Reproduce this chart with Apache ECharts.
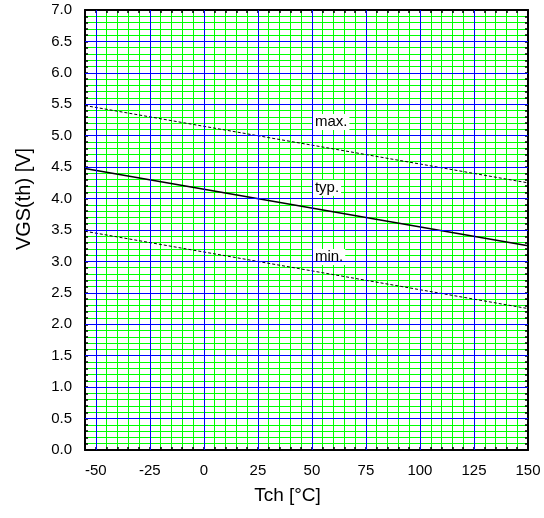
<!DOCTYPE html>
<html>
<head>
<meta charset="utf-8">
<script src="https://cdn.jsdelivr.net/npm/echarts@6/dist/echarts.min.js"></script>
<style>
  html, body { margin: 0; padding: 0; background: #fff; }
  #chart { width: 544px; height: 518px; }
</style>
</head>
<body>
<div id="chart"></div>
<script>
// Channel temperature end points (°C)
const tch = [-55, 150];
// Gate threshold voltage limits (V)
const vgsMax = [5.48, 4.25];
const vgsTyp = [4.48, 3.25];
const vgsMin = [3.48, 2.25];
// Curve annotations: [Tch, VGS, text]
const curveLabels = [
  [50, 5.22, 'max.'],
  [50, 4.17, 'typ.'],
  [50, 3.07, 'min.']
];
// Major grid positions (labelled ticks)
const majorX = [-50, -25, 0, 25, 50, 75, 100, 125];
const majorY = [0.5, 1.0, 1.5, 2.0, 2.5, 3.0, 3.5, 4.0, 4.5, 5.0, 5.5, 6.0, 6.5];

const FONT = '"Liberation Sans", Arial, sans-serif';
const GREEN = '#00ff00';
const BLUE = '#0000ff';

const pairs = (xs, ys) => xs.map((x, i) => [x, ys[i]]);

const chart = echarts.init(document.getElementById('chart'), null, { renderer: 'canvas' });

function mirrorAxis(extra) {
  return Object.assign({
    axisLine: { show: true, onZero: false, lineStyle: { color: '#000', width: 2 } },
    axisTick: { show: true, inside: true, length: 3, lineStyle: { color: '#000', width: 1.5 } },
    axisLabel: { show: false },
    splitLine: { show: false }
  }, extra);
}

chart.setOption({
  animation: false,
  backgroundColor: '#fff',
  grid: { left: 85, right: 16, top: 10, bottom: 68, containLabel: false },
  xAxis: [
    {
      type: 'value', min: -55, max: 150, interval: 5,
      name: 'Tch [°C]', nameLocation: 'middle', nameGap: 36,
      nameTextStyle: { fontFamily: FONT, fontSize: 19, color: '#000', padding: [0, 38, 0, 0] },
      axisLine: { show: true, onZero: false, lineStyle: { color: '#000', width: 2 } },
      axisTick: { show: true, inside: true, length: 3, lineStyle: { color: '#000', width: 1.5 } },
      axisLabel: {
        margin: 13, fontFamily: FONT, fontSize: 15, color: '#000',
        formatter: v => (v % 25 === 0 ? String(v) : '')
      },
      splitLine: { show: true, lineStyle: { width: 1, color: GREEN } }
    },
    mirrorAxis({ type: 'value', position: 'top', min: -55, max: 150, interval: 5 })
  ],
  yAxis: [
    {
      type: 'value', min: 0, max: 7, interval: 0.1,
      name: 'VGS(th) [V]', nameLocation: 'middle', nameGap: 51,
      nameTextStyle: { fontFamily: FONT, fontSize: 20, color: '#000', padding: [0, 0, 0, 62] },
      axisLine: { show: true, onZero: false, lineStyle: { color: '#000', width: 2 } },
      axisTick: { show: true, inside: true, length: 3, lineStyle: { color: '#000', width: 1.5 } },
      axisLabel: {
        margin: 13, fontFamily: FONT, fontSize: 15, color: '#000',
        formatter: v => {
          const t = Math.round(v * 10);
          return t % 5 === 0 ? (t / 10).toFixed(1) : '';
        }
      },
      splitLine: { show: true, lineStyle: { width: 1, color: GREEN } }
    },
    mirrorAxis({ type: 'value', position: 'right', min: 0, max: 7, interval: 0.1 })
  ],
  series: [
    {
      // major grid lines
      type: 'line', data: [], z: 1, silent: true,
      markLine: {
        silent: true, symbol: 'none', animation: false,
        label: { show: false },
        lineStyle: { color: BLUE, width: 1, type: 'solid' },
        emphasis: { disabled: true },
        data: majorX.map(v => ({ xAxis: v })).concat(majorY.map(v => ({ yAxis: v })))
      }
    },
    {
      name: 'max.', type: 'line', data: pairs(tch, vgsMax), showSymbol: false, z: 3,
      lineStyle: { color: '#000', width: 1, type: [3, 2] }
    },
    {
      name: 'typ.', type: 'line', data: pairs(tch, vgsTyp), showSymbol: false, z: 3,
      lineStyle: { color: '#000', width: 1.5 }
    },
    {
      name: 'min.', type: 'line', data: pairs(tch, vgsMin), showSymbol: false, z: 3,
      lineStyle: { color: '#000', width: 1, type: [3, 2] }
    },
    {
      type: 'scatter', symbolSize: 0, z: 4, silent: true,
      itemStyle: { opacity: 1, color: '#000' },
      data: curveLabels,
      label: {
        show: true, position: 'right', distance: 1,
        formatter: p => p.data[2],
        fontFamily: FONT, fontSize: 15, color: '#000',
        backgroundColor: '#fff', padding: [1, 2, 0, 2]
      }
    }
  ]
});
</script>
</body>
</html>
